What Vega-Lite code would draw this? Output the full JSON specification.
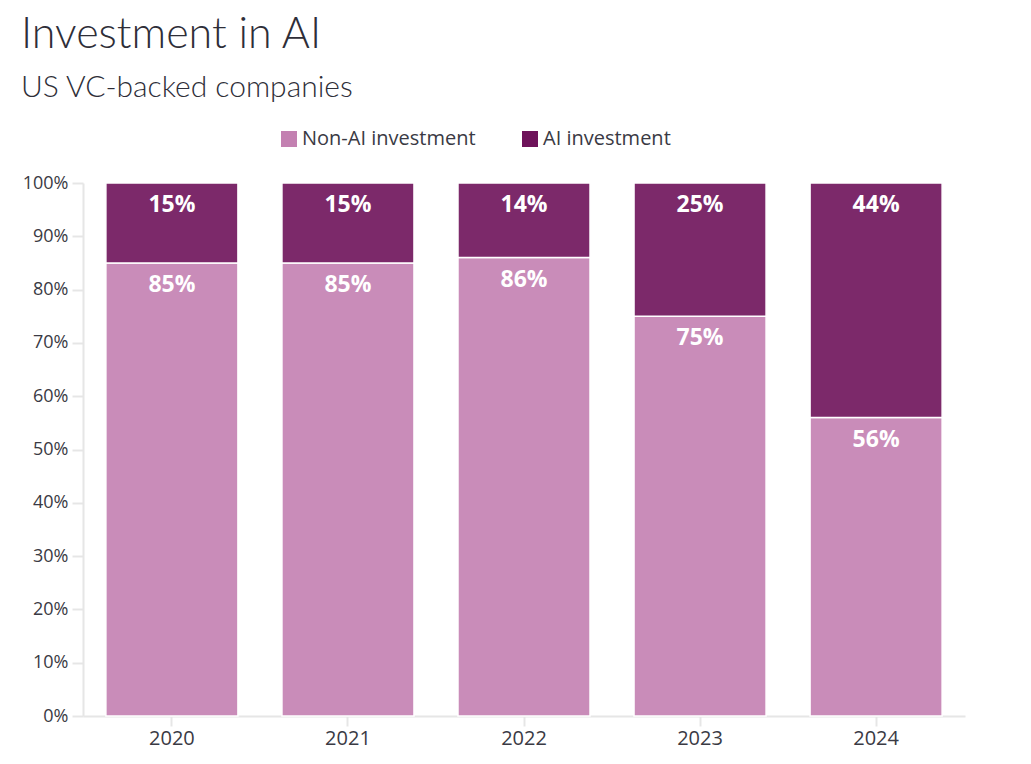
{
  "$schema": "https://vega.github.io/schema/vega-lite/v6.json",
  "width": 882,
  "height": 533,
  "autosize": {"type": "none"},
  "padding": {"left": 83, "top": 183, "right": 66, "bottom": 48},
  "background": "white",
  "view": {"stroke": null},
  "title": {
    "text": "Investment in AI",
    "subtitle": "US VC-backed companies",
    "anchor": "start",
    "frame": "group",
    "dx": -62,
    "font": "Lato",
    "fontSize": 43,
    "fontWeight": 300,
    "color": "#2e2e38",
    "subtitleFont": "Lato",
    "subtitleFontSize": 30,
    "subtitleFontWeight": 300,
    "subtitleColor": "#2e2e38",
    "subtitlePadding": 16,
    "offset": 26
  },
  "data": {
    "values": [
      {"year": "2020", "type": "Non-AI investment", "share": 0.85},
      {"year": "2020", "type": "AI investment", "share": 0.15},
      {"year": "2021", "type": "Non-AI investment", "share": 0.85},
      {"year": "2021", "type": "AI investment", "share": 0.15},
      {"year": "2022", "type": "Non-AI investment", "share": 0.86},
      {"year": "2022", "type": "AI investment", "share": 0.14},
      {"year": "2023", "type": "Non-AI investment", "share": 0.75},
      {"year": "2023", "type": "AI investment", "share": 0.25},
      {"year": "2024", "type": "Non-AI investment", "share": 0.56},
      {"year": "2024", "type": "AI investment", "share": 0.44}
    ]
  },
  "encoding": {
    "x": {
      "field": "year",
      "type": "ordinal",
      "scale": {"paddingInner": 0.25, "paddingOuter": 0.13},
      "axis": {
        "title": null,
        "labelAngle": 0,
        "labelFont": "Open Sans",
        "labelFontSize": 20,
        "labelColor": "#3a3a44",
        "labelPadding": 2,
        "domainColor": "#e6e6e6",
        "domainWidth": 2,
        "tickColor": "#e6e6e6",
        "tickWidth": 2,
        "tickSize": 10,
        "grid": false
      }
    },
    "y": {
      "field": "share",
      "type": "quantitative",
      "stack": "zero",
      "scale": {"domain": [0, 1], "nice": false},
      "axis": {
        "title": null,
        "format": ".0%",
        "values": [0, 0.1, 0.2, 0.3, 0.4, 0.5, 0.6, 0.7, 0.8, 0.9, 1],
        "labelFont": "Open Sans",
        "labelFontSize": 18,
        "labelColor": "#3a3a44",
        "labelPadding": 4,
        "domainColor": "#e6e6e6",
        "domainWidth": 2,
        "tickColor": "#e6e6e6",
        "tickWidth": 2,
        "tickSize": 11,
        "grid": false
      }
    },
    "order": {"field": "type", "sort": "descending"}
  },
  "layer": [
    {
      "mark": {"type": "bar", "fillOpacity": 0.9, "stroke": "white", "strokeWidth": 1.5},
      "encoding": {
        "color": {
          "field": "type",
          "type": "nominal",
          "scale": {"domain": ["Non-AI investment", "AI investment"], "range": ["#C380B1", "#6E125A"]},
          "legend": {
            "title": null,
            "orient": "none",
            "direction": "horizontal",
            "legendX": 196,
            "legendY": -54,
            "symbolType": "square",
            "symbolSize": 256,
            "symbolOpacity": 1,
            "symbolStrokeWidth": 0,
            "labelFont": "Open Sans",
            "labelFontSize": 20,
            "labelColor": "#3a3a44",
            "labelOffset": 3,
            "labelLimit": 400,
            "columnPadding": 44
          }
        }
      }
    },
    {
      "mark": {"type": "text", "color": "white", "font": "Open Sans", "fontWeight": "bold", "fontSize": 23, "baseline": "middle", "dy": 22},
      "encoding": {
        "text": {"field": "share", "type": "quantitative", "format": ".0%"}
      }
    }
  ]
}
